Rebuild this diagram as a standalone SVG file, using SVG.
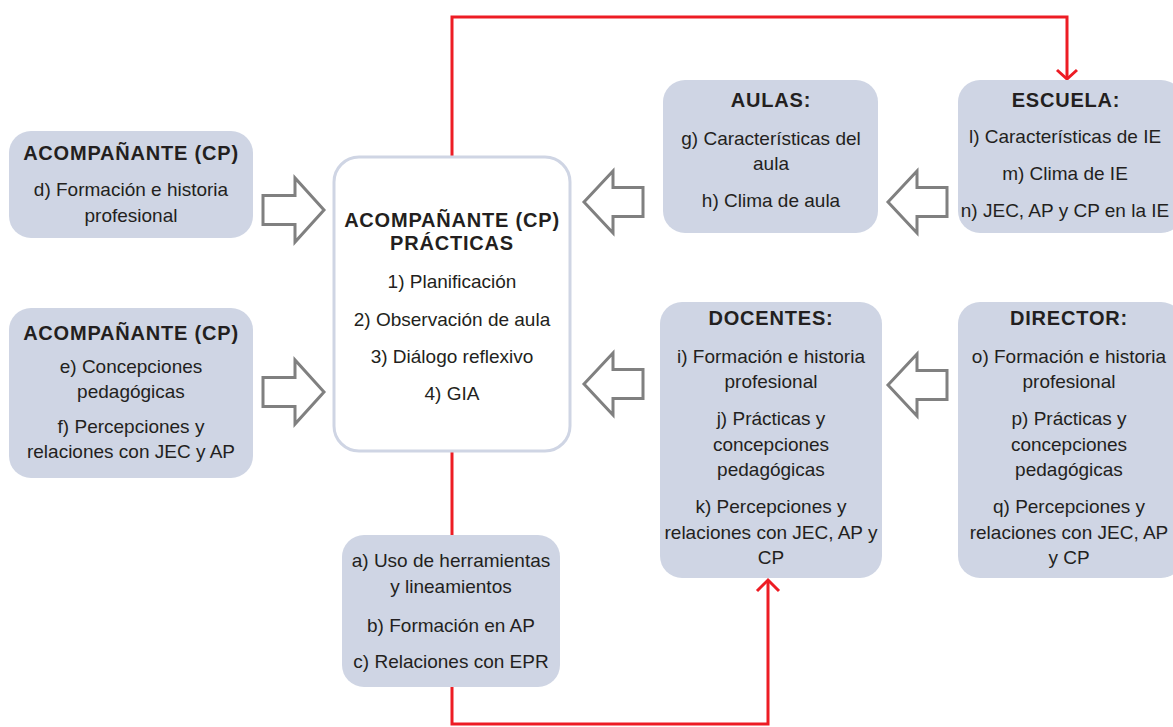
<svg xmlns="http://www.w3.org/2000/svg" width="1173" height="727" viewBox="0 0 1173 727">
<style>
.box{fill:#cfd5e4;stroke:none}
.cbox{fill:#ffffff;stroke:#cfd5e4;stroke-width:3}
.h{font-family:"Liberation Sans",Arial,sans-serif;font-weight:bold;font-size:20px;letter-spacing:0.8px;fill:#231f20;text-anchor:middle}
.t{font-family:"Liberation Sans",Arial,sans-serif;font-size:19px;fill:#231f20;text-anchor:middle}
.red{fill:none;stroke:#ed1c24;stroke-width:3}
.ga{fill:#ffffff;stroke:#808080;stroke-width:3;stroke-linejoin:miter}
</style>
<defs>
<path id="ar" class="ga" d="M0,-14.5 H32 V-32 L61,0 L32,32 V14.5 H0 Z"/>
<path id="al" class="ga" d="M0,0 L29,-31 V-14.5 H59 V14.5 H29 V31 Z"/>
</defs>
<g id="connectors">
<path class="red" d="M452,157 V17 H1067 V78"/>
<path class="red" d="M1057,70 L1067,79 L1077,70"/>
<path class="red" d="M452,452 V535"/>
<path class="red" d="M452,687 V724 H768 V580"/>
<path class="red" d="M757,591 L768,580 L779,591"/>
<use href="#ar" x="263" y="210"/>
<use href="#ar" x="263" y="392"/>
<use href="#al" x="584" y="202"/>
<use href="#al" x="584" y="384"/>
<use href="#al" x="888" y="202"/>
<use href="#al" x="888" y="385"/>
</g>
<g id="acomp1">
<rect class="box" x="9" y="131" width="244" height="107" rx="22"/>
<text class="h" x="131" y="160">ACOMPAÑANTE (CP)</text>
<text class="t" x="131" y="196">d) Formación e historia</text>
<text class="t" x="131" y="222">profesional</text>
</g>
<g id="acomp2">
<rect class="box" x="9" y="308" width="244" height="170" rx="22"/>
<text class="h" x="131" y="340">ACOMPAÑANTE (CP)</text>
<text class="t" x="131" y="373">e) Concepciones</text>
<text class="t" x="131" y="398">pedagógicas</text>
<text class="t" x="131" y="433">f) Percepciones y</text>
<text class="t" x="131" y="458">relaciones con JEC y AP</text>
</g>
<g id="central">
<rect class="cbox" x="334" y="157" width="236" height="294" rx="25"/>
<text class="h" x="452" y="227">ACOMPAÑANTE (CP)</text>
<text class="h" x="452" y="250">PRÁCTICAS</text>
<text class="t" x="452" y="288">1) Planificación</text>
<text class="t" x="452" y="326">2) Observación de aula</text>
<text class="t" x="452" y="363">3) Diálogo reflexivo</text>
<text class="t" x="452" y="400">4) GIA</text>
</g>
<g id="aulas">
<rect class="box" x="663" y="80" width="215" height="153" rx="22"/>
<text class="h" x="771" y="107">AULAS:</text>
<text class="t" x="771" y="145">g) Características del</text>
<text class="t" x="771" y="170">aula</text>
<text class="t" x="771" y="207">h) Clima de aula</text>
</g>
<g id="escuela">
<rect class="box" x="958" y="80" width="225" height="153" rx="22"/>
<text class="h" x="1066" y="107">ESCUELA:</text>
<text class="t" x="1065" y="143">l) Características de IE</text>
<text class="t" x="1065" y="180">m) Clima de IE</text>
<text class="t" x="1065" y="217">n) JEC, AP y CP en la IE</text>
</g>
<g id="docentes">
<rect class="box" x="660" y="302" width="222" height="276" rx="22"/>
<text class="h" x="771" y="325">DOCENTES:</text>
<text class="t" x="771" y="363">i) Formación e historia</text>
<text class="t" x="771" y="388">profesional</text>
<text class="t" x="771" y="425">j) Prácticas y</text>
<text class="t" x="771" y="451">concepciones</text>
<text class="t" x="771" y="476">pedagógicas</text>
<text class="t" x="771" y="513">k) Percepciones y</text>
<text class="t" x="771" y="539">relaciones con JEC, AP y</text>
<text class="t" x="771" y="564">CP</text>
</g>
<g id="director">
<rect class="box" x="958" y="302" width="225" height="276" rx="22"/>
<text class="h" x="1069" y="325">DIRECTOR:</text>
<text class="t" x="1069" y="363">o) Formación e historia</text>
<text class="t" x="1069" y="388">profesional</text>
<text class="t" x="1069" y="425">p) Prácticas y</text>
<text class="t" x="1069" y="451">concepciones</text>
<text class="t" x="1069" y="476">pedagógicas</text>
<text class="t" x="1069" y="513">q) Percepciones y</text>
<text class="t" x="1069" y="539">relaciones con JEC, AP</text>
<text class="t" x="1069" y="564">y CP</text>
</g>
<g id="factores">
<rect class="box" x="342" y="535" width="218" height="152" rx="22"/>
<text class="t" x="451" y="567">a) Uso de herramientas</text>
<text class="t" x="451" y="593">y lineamientos</text>
<text class="t" x="451" y="632">b) Formación en AP</text>
<text class="t" x="451" y="668">c) Relaciones con EPR</text>
</g>
</svg>
